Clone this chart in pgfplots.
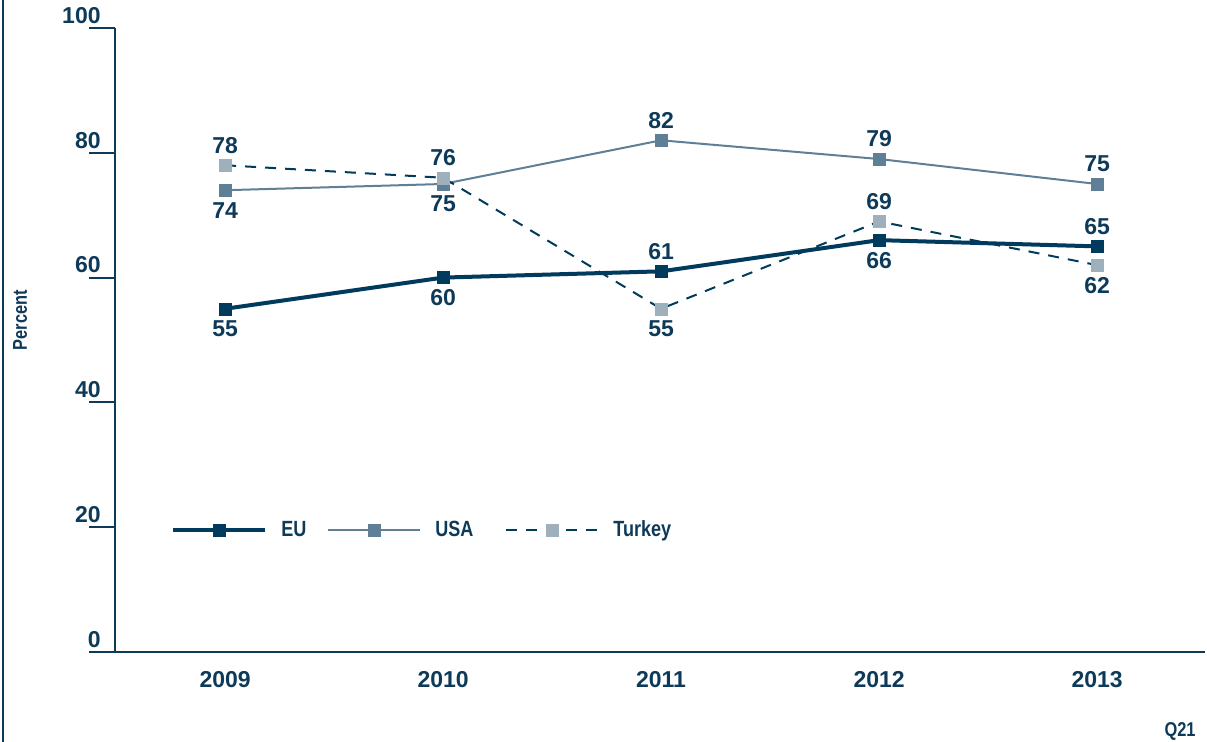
\documentclass[border=0pt]{standalone}
\usepackage{pgfplots}
\usepackage{pgfplotstable}
\pgfplotsset{compat=1.18}
\usepackage{fontspec}
\setmainfont{Liberation Sans}
\newfontfamily\narrowfont[FakeStretch=0.82]{Liberation Sans}
\definecolor{navy}{HTML}{0E3A5A}
\definecolor{eucol}{HTML}{003A5C}
\definecolor{usacol}{HTML}{5F7F96}
\definecolor{trcol}{HTML}{9EB0BC}

% x, value, label offset (pt)
\pgfplotstableread{
x y dy
2009 55 -10
2010 60 -10
2011 61 10
2012 66 -10
2013 65 10
}\eu
\pgfplotstableread{
x y dy
2009 74 -10
2010 75 -10
2011 82 10
2012 79 10
2013 75 10
}\usa
\pgfplotstableread{
x y dy
2009 78 10
2010 76 10
2011 55 -10
2012 69 10
2013 62 -10
}\turkey

\begin{document}
\begin{tikzpicture}
\useasboundingbox (-57.5pt,-45pt) rectangle (546pt,326pt);
\draw[navy, line width=1pt] (-56pt,-45pt) -- (-56pt,326pt);
\begin{axis}[
  at={(0pt,0pt)}, anchor=south west,
  scale only axis, width=545pt, height=312pt,
  xmin=2008.495, xmax=2013.495, ymin=0, ymax=100,
  axis x line=bottom, axis y line=left,
  axis line style={navy, line width=1pt, -},
  xtick={2009,2010,2011,2012,2013},
  ytick={0,20,40,60,80,100},
  x tick style={draw=none},
  y tick style={navy, line width=1pt},
  tick align=outside, major tick length=13pt,
  tick label style={font=\bfseries\fontsize{11.5}{13}\selectfont, text=navy},
  xticklabel style={anchor=center, yshift=-1pt},
  yticklabel style={anchor=south east, inner sep=0pt, xshift=6pt, yshift=2pt},
  /pgf/number format/assume math mode=true,
  /pgf/number format/1000 sep={},
  clip=false,
  every node near coord/.append style={font=\bfseries\fontsize{11.5}{13}\selectfont, text=navy},
  legend style={at={(28pt,61pt)}, anchor=west, draw=none, fill=none,
    inner sep=0pt, legend columns=3,
    nodes={inner sep=0pt, anchor=west},
    font=\narrowfont\bfseries\fontsize{11}{13}\selectfont, text=navy,
    /tikz/every odd column/.append style={column sep=7pt},
    /tikz/every even column/.append style={column sep=0pt}},
  legend image code/.code={\draw[mark repeat=2, mark phase=2, #1]
    plot coordinates {(0pt,0pt) (23pt,0pt) (46pt,0pt)};},
]
\addplot[eucol, line width=2pt, mark=square*, mark size=3pt,
  mark options={solid, line width=0.1pt},
  nodes near coords,
  visualization depends on={\thisrow{dy} \as \dy},
  every node near coord/.append style={anchor=center, yshift=\dy pt}]
  table[x=x, y=y] {\eu};
\addlegendentry{\makebox[23pt][l]{EU}}
\addplot[usacol, line width=1pt, mark=square*, mark size=3pt,
  mark options={solid, line width=0.1pt},
  nodes near coords,
  visualization depends on={\thisrow{dy} \as \dy},
  every node near coord/.append style={anchor=center, yshift=\dy pt}]
  table[x=x, y=y] {\usa};
\addlegendentry{\makebox[35pt][l]{USA}}
\addplot[eucol, line width=1pt, dash pattern=on 5.5pt off 4.5pt,
  mark=square*, mark size=3pt,
  mark options={solid, line width=0.1pt, trcol},
  nodes near coords,
  visualization depends on={\thisrow{dy} \as \dy},
  every node near coord/.append style={anchor=center, yshift=\dy pt}]
  table[x=x, y=y] {\turkey};
\addlegendentry{Turkey}
\end{axis}
\node[rotate=90, text=navy, font=\narrowfont\bfseries\fontsize{10}{12}\selectfont] at (-47.5pt,166pt) {Percent};
\node[text=navy, font=\narrowfont\bfseries\fontsize{10}{12}\selectfont] at (532.5pt,-39.5pt) {Q21};
\end{tikzpicture}
\end{document}
